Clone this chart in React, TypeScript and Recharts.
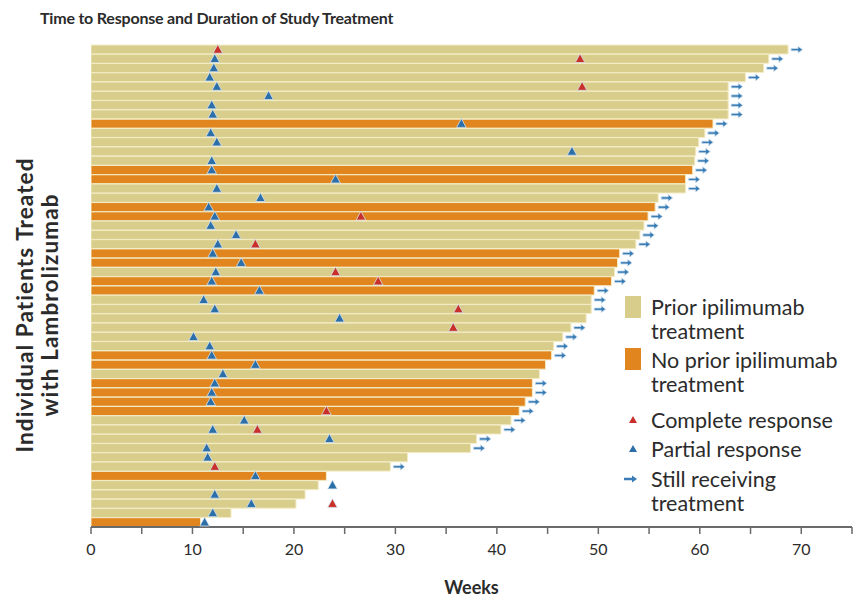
import React from 'react';
import { ComposedChart, Bar, Cell, XAxis, YAxis, Scatter, Legend } from 'recharts';

// ---- data ----
const patientIds = [
  'P01','P02','P03','P04','P05','P06','P07','P08','P09','P10',
  'P11','P12','P13','P14','P15','P16','P17','P18','P19','P20',
  'P21','P22','P23','P24','P25','P26','P27','P28','P29','P30',
  'P31','P32','P33','P34','P35','P36','P37','P38','P39','P40',
  'P41','P42','P43','P44','P45','P46','P47','P48','P49','P50',
  'P51','P52',
];

// weeks of study treatment
const durations = [
  68.7, 66.8, 66.3, 64.5, 62.8, 62.8, 62.8, 62.8, 61.3, 60.5,
  59.9, 59.6, 59.5, 59.3, 58.6, 58.6, 55.9, 55.6, 54.9, 54.5,
  54.1, 53.7, 52.1, 51.9, 51.6, 51.3, 49.6, 49.3, 49.3, 48.8,
  47.3, 46.5, 45.6, 45.4, 44.8, 44.2, 43.5, 43.5, 42.8, 42.2,
  41.4, 40.4, 38.0, 37.4, 31.2, 29.5, 23.2, 22.4, 21.1, 20.2,
  13.8, 10.8,
];

// 1 = prior ipilimumab treatment, 0 = no prior ipilimumab
const priorIpilimumab = [
  1, 1, 1, 1, 1, 1, 1, 1, 0, 1,
  1, 1, 1, 0, 0, 1, 1, 0, 0, 1,
  1, 1, 0, 0, 1, 0, 0, 1, 1, 1,
  1, 1, 1, 0, 0, 1, 0, 0, 0, 0,
  1, 1, 1, 1, 1, 1, 0, 1, 1, 1,
  1, 0,
];

// 1 = still receiving treatment
const stillReceiving = [
  1, 1, 1, 1, 1, 1, 1, 1, 1, 1,
  1, 1, 1, 1, 1, 1, 1, 1, 1, 1,
  1, 1, 1, 1, 1, 1, 1, 1, 1, 0,
  1, 1, 1, 1, 0, 0, 1, 1, 1, 1,
  1, 1, 1, 1, 0, 1, 0, 0, 0, 0,
  0, 0,
];

// week of partial response (null = none)
const partialResponse = [
  null, 12.2, 12.1, 11.7, 12.4, 17.5, 11.9, 12.0, 36.5, 11.8,
  12.4, 47.4, 11.9, 11.9, 24.1, 12.4, 16.7, 11.6, 12.2, 11.8,
  14.3, 12.5, 12.0, 14.8, 12.3, 11.9, 16.6, 11.1, 12.2, 24.5,
  null, 10.1, 11.7, 11.9, 16.2, 13.0, 12.2, 11.9, 11.8, null,
  15.1, 12.0, 23.5, 11.4, 11.5, null, 16.2, 23.8, 12.2, 15.8,
  12.0, 11.2,
];

// week of complete response (null = none)
const completeResponse = [
  12.5, 48.2, null, null, 48.4, null, null, null, null, null,
  null, null, null, null, null, null, null, null, 26.6, null,
  null, 16.2, null, null, 24.1, 28.3, null, null, 36.2, null,
  35.7, null, null, null, null, null, null, null, null, 23.2,
  null, 16.4, null, null, null, 12.2, null, null, null, 23.8,
  null, null,
];

const weekTicks = [0, 5, 10, 15, 20, 25, 30, 35, 40, 45, 50, 55, 60, 65, 70, 75];

const rows = patientIds.map((id, i) => ({
  patient: id,
  duration: durations[i],
  prior: priorIpilimumab[i] === 1,
  arrowAt: stillReceiving[i] === 1 ? durations[i] : null,
  partial: partialResponse[i],
  complete: completeResponse[i],
}));

// ---- styles ----
const KHAKI = '#d9cd8b';
const ORANGE = '#e1861f';
const SEP = '#f3ecc6';
const BLUE = '#2c6ea8';
const RED = '#c9302a';
const ARROW = '#3a7db6';
const TEXT = '#2b2b2b';
const FONT = 'Lato, "Open Sans", sans-serif';

const Triangle = (color: string, key: string) => (props: any) => {
  const { cx, cy, payload } = props;
  if (cx == null || cy == null || payload == null || payload[key] == null) return <g />;
  const w = 4.8;
  return (
    <polygon
      points={`${cx},${cy - 5.2} ${cx + w},${cy + 3.6} ${cx - w},${cy + 3.6}`}
      fill={color}
      stroke="#d7e4ee"
      strokeWidth={0.8}
    />
  );
};

const ArrowShape = (props: any) => {
  const { cx, cy, payload } = props;
  if (cx == null || cy == null || payload == null || payload.arrowAt == null) return <g />;
  const x0 = cx + 3;
  return (
    <g>
      <path
        d={`M${x0},${cy - 1.2} L${x0 + 7},${cy - 1.2} L${x0 + 7},${cy - 3.4} L${x0 + 11.5},${cy} L${x0 + 7},${cy + 3.4} L${x0 + 7},${cy + 1.2} L${x0},${cy + 1.2} Z`}
        fill={ARROW}
        stroke="#cfe0ec"
        strokeWidth={0.8}
      />
    </g>
  );
};

const legendText: React.CSSProperties = {
  fontFamily: FONT,
  fontSize: 21.5,
  color: TEXT,
  lineHeight: '24px',
  whiteSpace: 'nowrap',
};

const LegendContent = () => (
  <div style={{ position: 'relative', width: 236, height: 236 }}>
    <div style={{ position: 'absolute', left: 5, top: 6, width: 16, height: 22, background: KHAKI }} />
    <div style={{ ...legendText, position: 'absolute', left: 31, top: 5 }}>Prior ipilimumab<br />treatment</div>
    <div style={{ position: 'absolute', left: 5, top: 58, width: 16, height: 22, background: ORANGE }} />
    <div style={{ ...legendText, position: 'absolute', left: 31, top: 58 }}>No prior ipilimumab<br />treatment</div>
    <svg style={{ position: 'absolute', left: 5, top: 124 }} width={16} height={12}>
      <polygon points="8,2 12,9 4,9" fill={RED} />
    </svg>
    <div style={{ ...legendText, position: 'absolute', left: 31, top: 118 }}>Complete response</div>
    <svg style={{ position: 'absolute', left: 5, top: 153 }} width={16} height={12}>
      <polygon points="8,2 12,9 4,9" fill={BLUE} />
    </svg>
    <div style={{ ...legendText, position: 'absolute', left: 31, top: 147 }}>Partial response</div>
    <svg style={{ position: 'absolute', left: 2, top: 183 }} width={20} height={12}>
      <path d="M2,4.8 L10,4.8 L10,2.5 L15,6 L10,9.5 L10,7.2 L2,7.2 Z" fill={ARROW} />
    </svg>
    <div style={{ ...legendText, position: 'absolute', left: 31, top: 177 }}>Still receiving<br />treatment</div>
  </div>
);

export default function App() {
  return (
    <div style={{ position: 'absolute', left: 0, top: 0, width: 856, height: 602, background: '#fff', overflow: 'hidden' }}>
      <div
        style={{
          position: 'absolute', left: 40, top: 8, fontFamily: FONT, fontWeight: 700,
          fontSize: 16, color: TEXT, whiteSpace: 'nowrap', letterSpacing: -0.2,
        }}
      >
        Time to Response and Duration of Study Treatment
      </div>
      <div
        style={{
          position: 'absolute', left: 38 - 180, top: 305 - 26, width: 360, height: 52,
          transform: 'rotate(-90deg)', textAlign: 'center', fontFamily: FONT, fontWeight: 700,
          fontSize: 22.5, lineHeight: '25px', letterSpacing: 1.1, color: TEXT, whiteSpace: 'nowrap',
        }}
      >
        Individual Patients Treated<br />with Lambrolizumab
      </div>
      <ComposedChart
        width={856}
        height={602}
        data={rows}
        layout="vertical"
        barCategoryGap={0}
        margin={{ top: 45, right: 4, bottom: 45, left: 91 }}
      >
        <XAxis
          type="number"
          domain={[0, 75]}
          ticks={weekTicks}
          interval={0}
          allowDataOverflow
          tickFormatter={(v: number) => (v % 10 === 0 ? String(v) : '')}
          tickSize={7}
          tickMargin={10}
          height={30}
          axisLine={{ stroke: '#6a6a6a', strokeWidth: 2 }}
          tickLine={{ stroke: '#6a6a6a', strokeWidth: 1.5 }}
          tick={{ fill: TEXT, fontSize: 16, fontFamily: FONT }}
          label={{ value: 'Weeks', position: 'bottom', offset: 24, fill: TEXT, fontSize: 18, fontWeight: 700, fontFamily: FONT }}
        />
        <YAxis type="category" dataKey="patient" hide />
        <Bar dataKey="duration" isAnimationActive={false} stroke={SEP} strokeWidth={1}>
          {rows.map((r) => (
            <Cell key={r.patient} fill={r.prior ? KHAKI : ORANGE} />
          ))}
        </Bar>
        <Scatter dataKey="arrowAt" isAnimationActive={false} shape={ArrowShape} />
        <Scatter dataKey="partial" isAnimationActive={false} shape={Triangle(BLUE, 'partial')} />
        <Scatter dataKey="complete" isAnimationActive={false} shape={Triangle(RED, 'complete')} />
        <Legend
          layout="vertical"
          align="center"
          verticalAlign="middle"
          content={() => <LegendContent />}
          wrapperStyle={{ left: 620, top: 290, width: 236, height: 236 }}
        />
      </ComposedChart>
    </div>
  );
}
